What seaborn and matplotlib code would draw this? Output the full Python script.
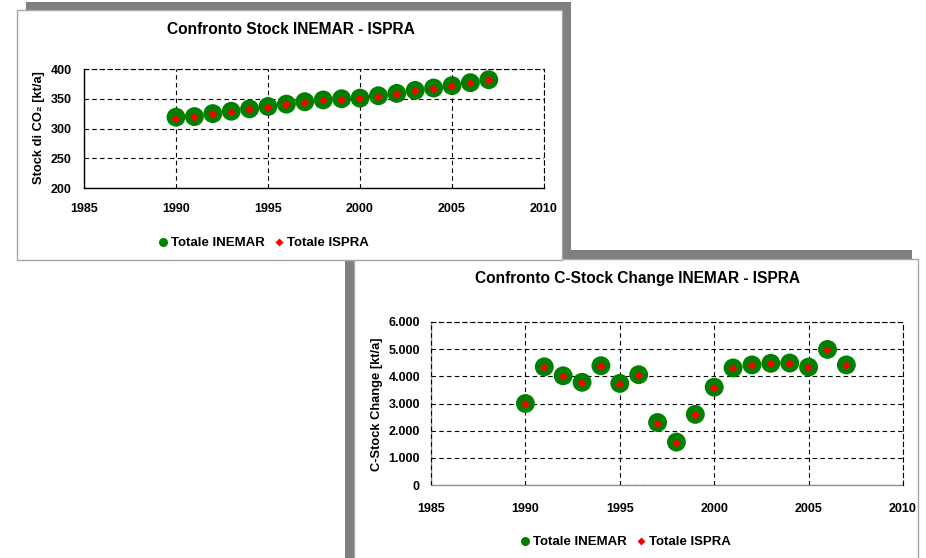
import matplotlib
matplotlib.use("Agg")
import matplotlib.pyplot as plt
from matplotlib.patches import Rectangle
from matplotlib.lines import Line2D
import seaborn as sns
import pandas as pd

# ---------------- data ----------------
years = [1990, 1991, 1992, 1993, 1994, 1995, 1996, 1997, 1998, 1999,
         2000, 2001, 2002, 2003, 2004, 2005, 2006, 2007]
stock_inemar = [319, 320, 325, 329, 333, 337, 341, 345, 348, 350,
                351, 355, 359, 364, 368, 372, 377, 382]
stock_ispra = [316, 319, 324, 327, 332, 335, 340, 343, 347, 348,
               350, 353, 357, 363, 366, 371, 376, 381]
change_inemar = [3000, 4350, 4020, 3780, 4390, 3740, 4060, 2300, 1580, 2600,
                 3600, 4310, 4420, 4480, 4490, 4340, 4990, 4420]
change_ispra = [2980, 4320, 3990, 3750, 4360, 3710, 4030, 2250, 1540, 2570,
                3560, 4290, 4400, 4460, 4460, 4320, 4960, 4400]
x_ticks = [1985, 1990, 1995, 2000, 2005, 2010]
stock_ticks = [200, 250, 300, 350, 400]
change_ticks = [0, 1000, 2000, 3000, 4000, 5000, 6000]
change_tick_labels = ["0", "1.000", "2.000", "3.000", "4.000", "5.000", "6.000"]
series_names = ["Totale INEMAR", "Totale ISPRA"]
titles = ["Confronto Stock INEMAR - ISPRA", "Confronto C-Stock Change INEMAR - ISPRA"]
ylabels = ["Stock di CO\u2082 [kt/a]", "C-Stock Change [kt/a]"]

sns.set_style("white")
plt.rcParams["font.family"] = ["Liberation Sans", "DejaVu Sans"]
plt.rcParams["font.weight"] = "bold"
plt.rcParams["text.color"] = "black"
plt.rcParams["xtick.color"] = "black"
plt.rcParams["ytick.color"] = "black"
plt.rcParams["xtick.labelcolor"] = "black"
plt.rcParams["ytick.labelcolor"] = "black"
plt.rcParams["legend.labelcolor"] = "black"

W, H = 926, 558
fig = plt.figure(figsize=(W / 100, H / 100), dpi=100)


def fx(x):
    return x / W


def fy(y):
    return 1 - y / H


def rect(x0, y0, x1, y1, z, face, edge="none", lw=0):
    r = Rectangle((fx(x0), fy(y1)), fx(x1) - fx(x0), fy(y0) - fy(y1),
                  transform=fig.transFigure, facecolor=face, edgecolor=edge,
                  linewidth=lw, zorder=z)
    fig.patches.append(r)


GRAY = "#808080"
BORDER = "#a6a6a6"
# bottom panel shadow and box
rect(345, 250, 912, 570, -10, GRAY)
rect(354, 259, 918, 570, -9, "white", BORDER, 1.0)
# top panel shadow and box
rect(26, 2, 571, 251, -8, GRAY)
rect(17, 10, 562, 260, -7, "white", BORDER, 1.0)

GREEN = "#008000"
RED = "#ff0000"
TICK_FS = 9


def make_axes(px0, py0, px1, py1):
    return fig.add_axes([fx(px0), fy(py1), fx(px1) - fx(px0), fy(py0) - fy(py1)])


def style_axes(ax, spine_color):
    ax.set_facecolor("white")
    ax.grid(True, color="black", linestyle=(0, (4, 3)), linewidth=0.8)
    ax.set_axisbelow(True)
    for s in ["left", "bottom"]:
        ax.spines[s].set_color(spine_color)
        ax.spines[s].set_linewidth(1.0)
        ax.spines[s].set_zorder(0.5)
    for s in ["top", "right"]:
        ax.spines[s].set_color("black")
        ax.spines[s].set_linestyle((0, (4, 3)))
        ax.spines[s].set_linewidth(0.8)
    ax.tick_params(length=0, labelsize=TICK_FS, labelcolor="black")
    for lab in ax.get_xticklabels() + ax.get_yticklabels():
        lab.set_fontweight("bold")


# ---- top chart ----
ax1 = make_axes(84, 69, 544, 188)
df1 = pd.DataFrame({"anno": years, "inemar": stock_inemar, "ispra": stock_ispra})
sns.scatterplot(data=df1, x="anno", y="inemar", ax=ax1, color=GREEN, s=185,
                edgecolor="none", legend=False, zorder=3)
sns.scatterplot(data=df1, x="anno", y="ispra", ax=ax1, color=RED, s=20,
                marker="D", edgecolor="none", legend=False, zorder=4)
ax1.set_xlim(1985, 2010)
ax1.set_ylim(200, 400)
ax1.set_xticks(x_ticks)
ax1.set_yticks(stock_ticks)
ax1.set_xlabel("")
ax1.set_ylabel("")
ax1.tick_params(axis="x", pad=11)
ax1.tick_params(axis="y", pad=9)
style_axes(ax1, "black")

# ---- bottom chart ----
ax2 = make_axes(431, 322, 903, 485)
df2 = pd.DataFrame({"anno": years, "inemar": change_inemar, "ispra": change_ispra})
sns.scatterplot(data=df2, x="anno", y="inemar", ax=ax2, color=GREEN, s=185,
                edgecolor="none", legend=False, zorder=3)
sns.scatterplot(data=df2, x="anno", y="ispra", ax=ax2, color=RED, s=20,
                marker="D", edgecolor="none", legend=False, zorder=4)
ax2.set_xlim(1985, 2010)
ax2.set_ylim(0, 6000)
ax2.set_xticks(x_ticks)
ax2.set_yticks(change_ticks)
ax2.set_yticklabels(change_tick_labels)
ax2.set_xlabel("")
ax2.set_ylabel("")
ax2.tick_params(axis="x", pad=13)
ax2.tick_params(axis="y", pad=8)
style_axes(ax2, "#909090")

# titles and y labels
fig.text(fx(291), fy(30), titles[0], ha="center", va="center",
         fontsize=11.2, fontweight="bold", color="black")
fig.text(fx(638), fy(279), titles[1], ha="center", va="center",
         fontsize=11.2, fontweight="bold", color="black")
fig.text(fx(39), fy(128), ylabels[0], ha="center", va="center", rotation=90,
         fontsize=9.3, fontweight="bold", color="black")
fig.text(fx(377), fy(404), ylabels[1], ha="center", va="center", rotation=90,
         fontsize=9.3, fontweight="bold", color="black")

# legends
handles = [Line2D([], [], linestyle="none", marker="o", markersize=6.5,
                  markerfacecolor=GREEN, markeredgecolor="none"),
           Line2D([], [], linestyle="none", marker="D", markersize=4,
                  markerfacecolor=RED, markeredgecolor="none")]
for cx, cy in [(264, 243), (626, 542)]:
    fig.legend(handles, series_names, loc="center", bbox_to_anchor=(fx(cx), fy(cy)),
               ncol=2, frameon=False, handlelength=0.6, handletextpad=0.3,
               columnspacing=0.8, prop={"size": 9.5, "weight": "bold"},
               labelcolor="black")

fig.savefig("out.png", dpi=100, facecolor="white")
